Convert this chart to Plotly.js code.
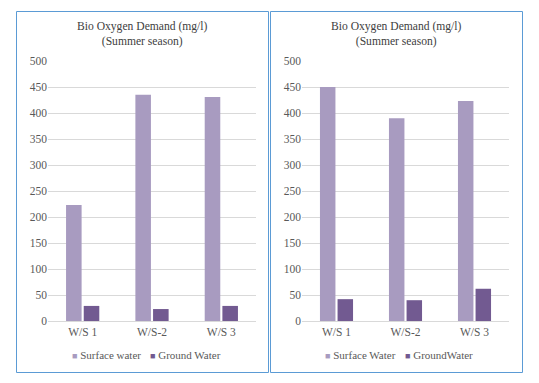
<!DOCTYPE html>
<html><head><meta charset="utf-8">
<script src="https://cdn.plot.ly/plotly-3.0.1.min.js"></script>
<style>body{margin:0;padding:0;background:#fff}#c{width:539px;height:383px}</style>
</head><body><div id="c"></div>
<script>
var categories = ["W/S 1", "W/S-2", "W/S 3"];
var leftSurface = [223, 435, 431];
var leftGround = [29, 23, 29];
var rightSurface = [450, 390, 423];
var rightGround = [42, 40, 62];
var yTicks = [0, 50, 100, 150, 200, 250, 300, 350, 400, 450, 500];
var leftNames = ['Surface water', 'Ground Water'];
var rightNames = ['Surface Water', 'GroundWater'];
var chartTitle = 'Bio Oxygen Demand (mg/l)<br>(Summer season)';

var W = 539, H = 383;
function px(x){return x/W;}
function py(y){return (H-y)/H;}
var cSurf = '#a89bc0', cGround = '#725a91';
var fam = 'Times New Roman, Liberation Serif, serif';
function f(size, color){return {family:fam, size:size, color:color};}

function bar(y, color, xa, ya, name){
 return {type:'bar', x:categories, y:y, name:name, marker:{color:color}, xaxis:xa, yaxis:ya, showlegend:false, hoverinfo:'none'};
}
var traces = [
 bar(leftSurface, cSurf, 'x', 'y', leftNames[0]),
 bar(leftGround, cGround, 'x', 'y', leftNames[1]),
 bar(rightSurface, cSurf, 'x2', 'y2', rightNames[0]),
 bar(rightGround, cGround, 'x2', 'y2', rightNames[1])
];

function yax(anchor){
 return {domain:[py(321), py(61)], range:[0,500], tickvals:yTicks, showgrid:true, gridcolor:'#d9d9d9', gridwidth:1,
  zeroline:false, showline:false, ticks:'', tickfont:f(11.5,'#595959'), anchor:anchor, automargin:false, fixedrange:true};
}
function xax(d, anchor){
 return {domain:d, type:'category', showline:true, linecolor:'#d9d9d9', linewidth:1, ticks:'', tickfont:f(11.5,'#595959'), anchor:anchor, automargin:false, fixedrange:true};
}
function legItem(x, color, name){
 return {xref:'paper', yref:'paper', x:px(x), y:py(355), xanchor:'left', yanchor:'middle', showarrow:false,
  text:'<span style="color:'+color+';font-size:9px">■</span> '+name, font:f(11,'#595959')};
}
function titleAnn(x){
 return {xref:'paper', yref:'paper', x:px(x), y:py(34), text:chartTitle, showarrow:false, xanchor:'center', yanchor:'middle', font:f(11.6,'#404040')};
}

var layout = {
 width:W, height:H, margin:{l:0,r:0,t:0,b:0}, paper_bgcolor:'#fff', plot_bgcolor:'rgba(0,0,0,0)',
 font:f(11,'#595959'),
 barmode:'group', bargap:0.49, bargroupgap:0.12,
 xaxis: xax([px(48), px(256)], 'y'),
 yaxis: yax('x'),
 xaxis2: xax([px(302), px(509)], 'y2'),
 yaxis2: yax('x2'),
 showlegend:false,
 annotations:[
  titleAnn(142), titleAnn(396),
  legItem(70, cSurf, leftNames[0]), legItem(148, cGround, leftNames[1]),
  legItem(323, cSurf, rightNames[0]), legItem(403, cGround, rightNames[1])
 ],
 shapes:[
  {type:'rect', xref:'paper', yref:'paper', x0:px(16.5), x1:px(268.5), y0:py(372.5), y1:py(11.5), line:{color:'#5b9bd5', width:1}},
  {type:'rect', xref:'paper', yref:'paper', x0:px(270.5), x1:px(522.5), y0:py(372.5), y1:py(11.5), line:{color:'#5b9bd5', width:1}}
 ]
};
Plotly.newPlot('c', traces, layout, {displayModeBar:false, staticPlot:true});
</script></body></html>
